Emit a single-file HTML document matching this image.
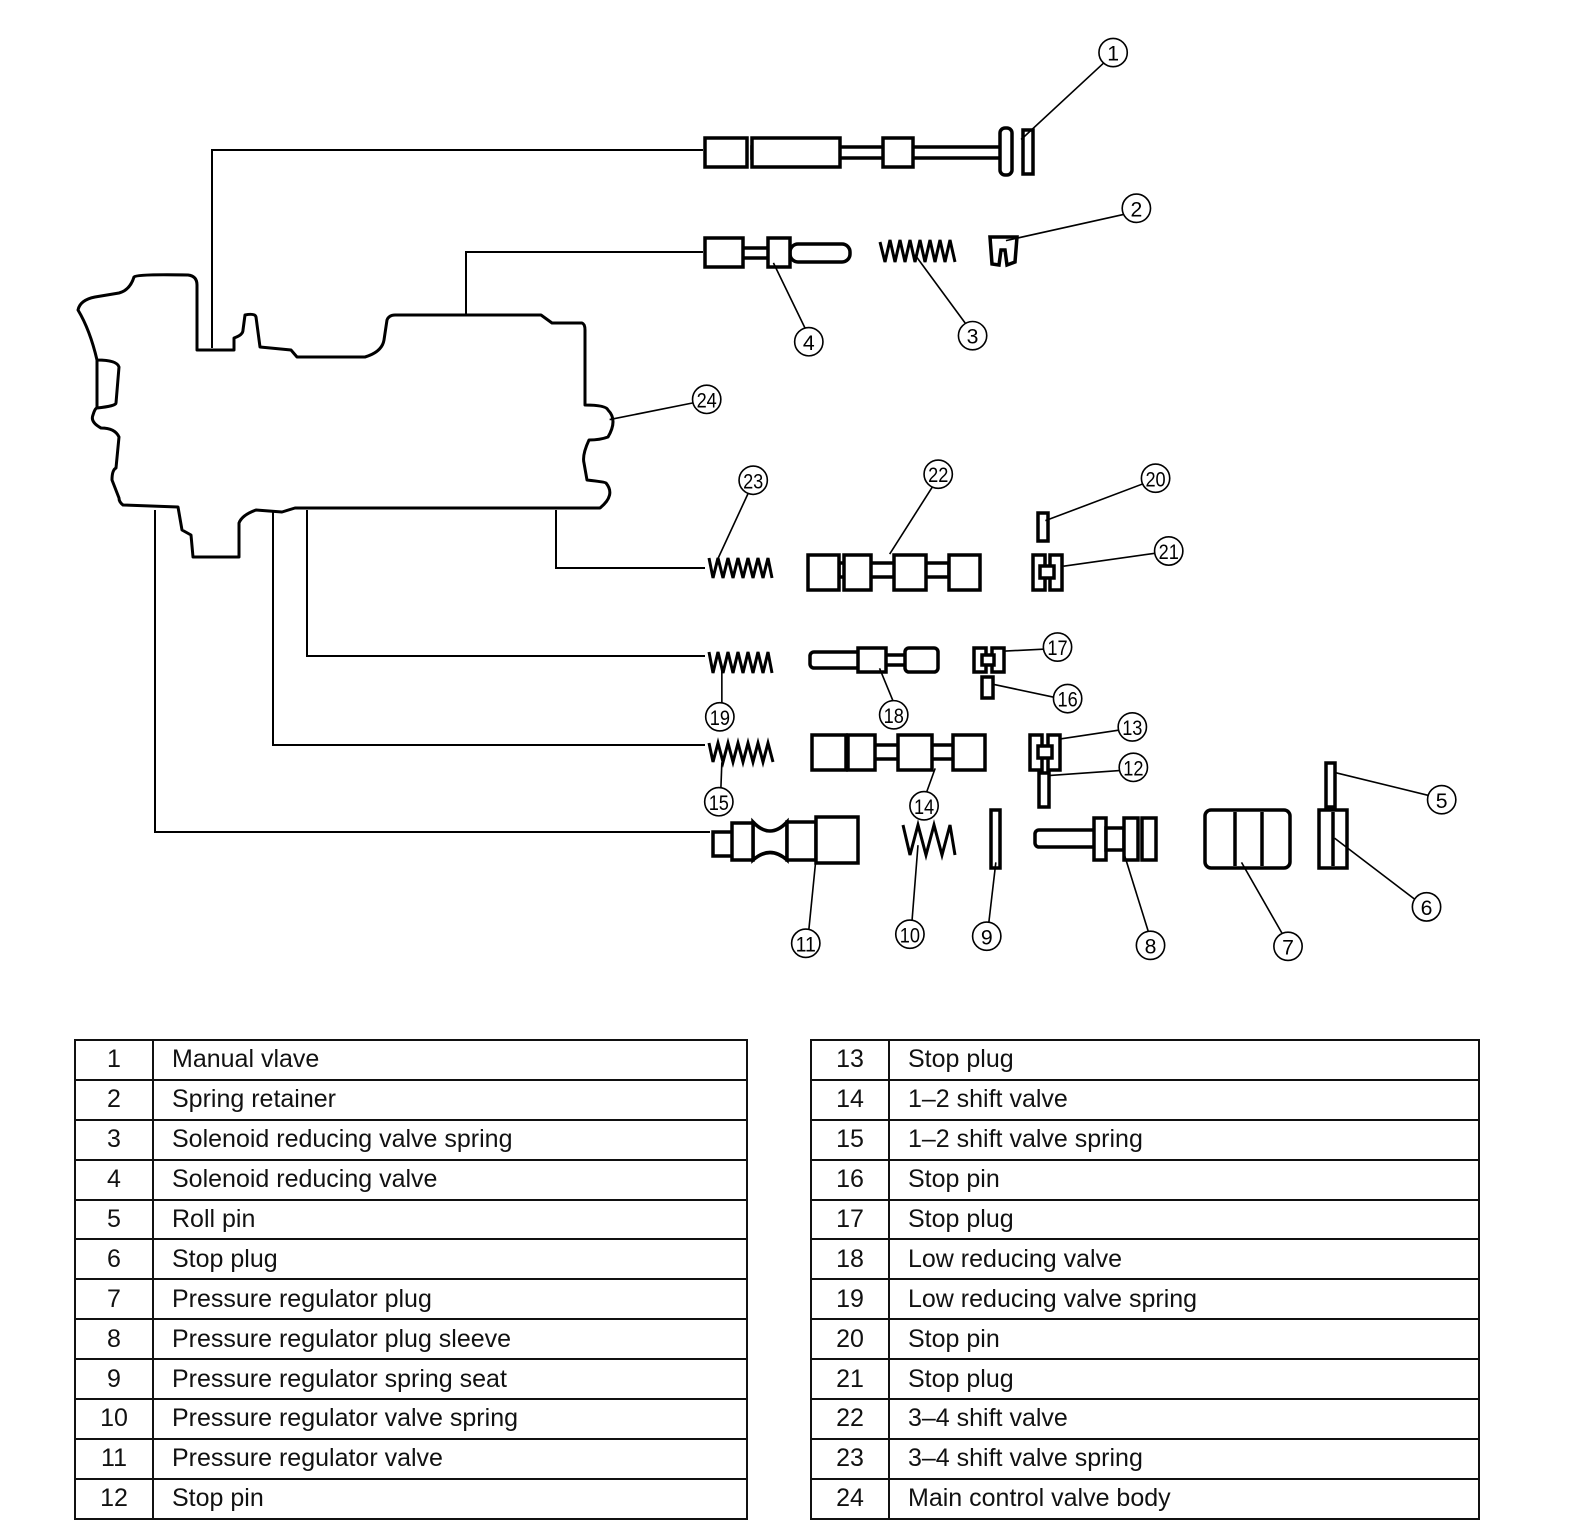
<!DOCTYPE html>
<html><head><meta charset="utf-8"><style>
body{margin:0;background:#fff;width:1584px;height:1538px;overflow:hidden;font-family:"Liberation Sans",sans-serif}
svg{position:absolute;left:0;top:0}
table{position:absolute;border-collapse:collapse;font-size:25px;color:#111}
td{border:2px solid #111;height:37.9px;padding:0;line-height:25px}
td.n{text-align:center;width:76px}
td.t{padding-left:18px}
</style></head><body>
<svg width="1584" height="1000" viewBox="0 0 1584 1000">
<g fill="none" stroke="#000" stroke-width="3" stroke-linejoin="round">
<path d="M78,310 Q80,300 95,297 L119,293 Q130,290 134,277 Q137,274 188,275 Q197,276 197,285 L197,350 L234,350 L234,338 Q243,335 243,330 L245,315 Q255,313 256,317 L260,347 L291,350 L297,357 L365,357 Q382,352 384,340 L387,320 Q389,315 395,315 L541,315 L552,323 L582,323 Q585,324 585,330 L585,405 Q606,405 608,410 Q618,420 608,437 Q600,440 589,440 Q582,455 584,463 L587,480 Q605,482 606,483 Q616,495 600,508 L295,508 L282,512 L256,510 Q242,515 239,523 L239,557 L193,557 L191,535 L182,530 L178,507 L123,505 Q119,502 119,498 L112,480 Q112,470 116,468 L119,437 Q115,428 101,428 Q90,422 93,415 Q95,408 97,408 Q116,406 116,403 L119,367 Q117,360 97,360 Q90,330 78,310 Z"/>
<line x1="97" y1="360" x2="97" y2="408"/>
</g>
<g fill="none" stroke="#000" stroke-width="2">
<polyline points="212,348 212,150 703,150"/>
<polyline points="466,315 466,252 703,252"/>
<polyline points="556,510 556,568 705,568"/>
<polyline points="307,510 307,656 705,656"/>
<polyline points="273,510 273,745 705,745"/>
<polyline points="155,510 155,832 710,832"/>
</g>
<g fill="#fff" stroke="#000" stroke-width="3.5">
<rect x="752" y="147" width="250" height="11"/>
<rect x="705" y="138" width="42" height="29"/>
<rect x="752" y="138" width="88" height="29"/>
<rect x="883" y="138" width="30" height="29"/>
<rect x="1000" y="128" width="12" height="47" rx="5"/>
<rect x="1023" y="130" width="10" height="44"/>
<rect x="790" y="244" width="60" height="18" rx="8"/>
<rect x="740" y="248" width="30" height="10"/>
<rect x="705" y="238" width="38" height="29"/>
<rect x="768" y="238" width="22" height="29"/>
<path d="M990,237 L1017,237 L1015,262 L1007,265 L1005,250 L1001,250 L999,265 L992,264 Z"/>
<rect x="839" y="563" width="110" height="14"/>
<rect x="808" y="555" width="31" height="35"/>
<rect x="844" y="555" width="27" height="35"/>
<rect x="894" y="555" width="32" height="35"/>
<rect x="949" y="555" width="31" height="35"/>
<rect x="1033" y="555" width="12" height="35"/><rect x="1050" y="555" width="12" height="35"/><rect x="1040" y="566" width="14" height="12"/>
<rect x="1038" y="513" width="10" height="28"/>
<rect x="810" y="652" width="50" height="16" rx="4"/>
<rect x="880" y="655" width="30" height="10"/>
<rect x="858" y="648" width="28" height="24"/>
<rect x="905" y="648" width="33" height="24" rx="4"/>
<rect x="974" y="648" width="12" height="24"/><rect x="992" y="648" width="12" height="24"/><rect x="982" y="655" width="12" height="10"/>
<rect x="982" y="677" width="11" height="21"/>
<rect x="846" y="745" width="110" height="14"/>
<rect x="812" y="735" width="34" height="35"/>
<rect x="848" y="735" width="27" height="35"/>
<rect x="898" y="735" width="34" height="35"/>
<rect x="953" y="735" width="32" height="35"/>
<rect x="1030" y="735" width="12" height="35"/><rect x="1048" y="735" width="12" height="35"/><rect x="1038" y="746" width="14" height="12"/>
<rect x="1039" y="773" width="10" height="34"/>
<rect x="1326" y="763" width="9" height="44"/>
<path d="M753,822 Q770,840 787,822 L787,860 Q770,845 753,860 Z"/>
<rect x="713" y="832" width="20" height="24"/>
<rect x="732" y="823" width="21" height="37"/>
<rect x="787" y="822" width="29" height="38"/>
<rect x="816" y="817" width="42" height="46"/>
<rect x="991" y="810" width="9" height="58"/>
<rect x="1035" y="830" width="65" height="17" rx="4"/>
<rect x="1094" y="818" width="12" height="42"/>
<rect x="1106" y="828" width="18" height="22"/>
<rect x="1124" y="818" width="14" height="42"/>
<rect x="1142" y="818" width="14" height="42"/>
<rect x="1205" y="810" width="85" height="58" rx="6"/>
<line x1="1235" y1="812" x2="1235" y2="866"/><line x1="1262" y1="812" x2="1262" y2="866"/>
<rect x="1319" y="810" width="28" height="58"/>
<line x1="1333" y1="812" x2="1333" y2="866"/>
</g>
<g fill="none" stroke="#000" stroke-width="3">
<polyline points="880,242 885,262 890,240 895,262 900,240 905,262 910,240 915,262 920,240 925,262 930,240 935,262 940,240 945,262 950,240 955,262"/>
<polyline points="709,558 713,578 718,558 723,578 728,558 733,578 738,558 743,578 748,558 753,578 758,558 763,578 768,558 772,578"/>
<polyline points="709,652 713,673 718,652 723,673 728,652 733,673 738,652 743,673 748,652 753,673 758,652 763,673 768,652 772,673"/>
<polyline points="709,743 713,762 718,743 723,762 728,743 733,762 738,743 743,762 748,743 753,762 758,743 763,762 768,743 773,762"/>
<polyline points="903,825 910,855 918,825 926,855 934,825 942,855 950,825 955,855"/>
</g>
<g transform="scale(1.011)">
<g stroke="#000" stroke-width="1.6">
<line x1="1010" y1="138" x2="1092" y2="62"/>
<line x1="995" y1="238" x2="1112" y2="212"/>
<line x1="905" y1="252" x2="955" y2="320"/>
<line x1="765" y1="260" x2="797" y2="326"/>
<line x1="603" y1="415" x2="688" y2="398"/>
<line x1="709" y1="555" x2="740" y2="488"/>
<line x1="880" y1="548" x2="922" y2="482"/>
<line x1="1034" y1="515" x2="1132" y2="478"/>
<line x1="1052" y1="560" x2="1144" y2="547"/>
<line x1="994" y1="644" x2="1034" y2="642"/>
<line x1="983" y1="677" x2="1044" y2="690"/>
<line x1="714" y1="663" x2="714" y2="697"/>
<line x1="870" y1="661" x2="884" y2="695"/>
<line x1="1048" y1="731" x2="1108" y2="722"/>
<line x1="1039" y1="767" x2="1109" y2="762"/>
<line x1="1320" y1="764" x2="1414" y2="787"/>
<line x1="1320" y1="829" x2="1400" y2="890"/>
<line x1="714" y1="754" x2="713" y2="781"/>
<line x1="925" y1="760" x2="916" y2="785"/>
<line x1="807" y1="850" x2="800" y2="920"/>
<line x1="908" y1="836" x2="902" y2="912"/>
<line x1="985" y1="853" x2="978" y2="913"/>
<line x1="1112" y1="845" x2="1136" y2="922"/>
<line x1="1228" y1="853" x2="1268" y2="923"/>
</g>
<g fill="#fff" stroke="#000" stroke-width="1.6">
<circle cx="1101" cy="52" r="14"/><circle cx="1124" cy="206" r="14"/><circle cx="962" cy="332" r="14"/><circle cx="800" cy="338" r="14"/>
<circle cx="699" cy="395" r="14"/><circle cx="745" cy="475" r="14"/><circle cx="928" cy="469" r="14"/><circle cx="1143" cy="473" r="14"/>
<circle cx="1156" cy="545" r="14"/><circle cx="1046" cy="640" r="14"/><circle cx="1056" cy="691" r="14"/><circle cx="712" cy="709" r="14"/>
<circle cx="884" cy="707" r="14"/><circle cx="1120" cy="719" r="14"/><circle cx="1121" cy="759" r="14"/><circle cx="711" cy="793" r="14"/>
<circle cx="914" cy="797" r="14"/><circle cx="1426" cy="791" r="14"/><circle cx="1411" cy="897" r="14"/><circle cx="797" cy="933" r="14"/>
<circle cx="900" cy="924" r="14"/><circle cx="976" cy="926" r="14"/><circle cx="1138" cy="935" r="14"/><circle cx="1274" cy="936" r="14"/>
</g>
<g font-family="Liberation Sans, sans-serif" font-size="21" text-anchor="middle" fill="#000">
<text x="1101" y="60">1</text><text x="1124" y="214">2</text><text x="962" y="340">3</text><text x="800" y="346">4</text>
<text x="699" y="403" textLength="20" lengthAdjust="spacingAndGlyphs">24</text><text x="745" y="483" textLength="20" lengthAdjust="spacingAndGlyphs">23</text>
<text x="928" y="477" textLength="20" lengthAdjust="spacingAndGlyphs">22</text><text x="1143" y="481" textLength="20" lengthAdjust="spacingAndGlyphs">20</text>
<text x="1156" y="553" textLength="20" lengthAdjust="spacingAndGlyphs">21</text><text x="1046" y="648" textLength="20" lengthAdjust="spacingAndGlyphs">17</text>
<text x="1056" y="699" textLength="20" lengthAdjust="spacingAndGlyphs">16</text><text x="712" y="717" textLength="20" lengthAdjust="spacingAndGlyphs">19</text>
<text x="884" y="715" textLength="20" lengthAdjust="spacingAndGlyphs">18</text><text x="1120" y="727" textLength="20" lengthAdjust="spacingAndGlyphs">13</text>
<text x="1121" y="767" textLength="20" lengthAdjust="spacingAndGlyphs">12</text><text x="711" y="801" textLength="20" lengthAdjust="spacingAndGlyphs">15</text>
<text x="914" y="805" textLength="20" lengthAdjust="spacingAndGlyphs">14</text><text x="1426" y="799">5</text><text x="1411" y="905">6</text>
<text x="797" y="941" textLength="20" lengthAdjust="spacingAndGlyphs">11</text><text x="900" y="932" textLength="20" lengthAdjust="spacingAndGlyphs">10</text>
<text x="976" y="934">9</text><text x="1138" y="943">8</text><text x="1274" y="944">7</text>
</g>
</g>
</svg>
<table style="left:74px;top:1039px;width:674px">
<tr><td class="n">1</td><td class="t">Manual vlave</td></tr>
<tr><td class="n">2</td><td class="t">Spring retainer</td></tr>
<tr><td class="n">3</td><td class="t">Solenoid reducing valve spring</td></tr>
<tr><td class="n">4</td><td class="t">Solenoid reducing valve</td></tr>
<tr><td class="n">5</td><td class="t">Roll pin</td></tr>
<tr><td class="n">6</td><td class="t">Stop plug</td></tr>
<tr><td class="n">7</td><td class="t">Pressure regulator plug</td></tr>
<tr><td class="n">8</td><td class="t">Pressure regulator plug sleeve</td></tr>
<tr><td class="n">9</td><td class="t">Pressure regulator spring seat</td></tr>
<tr><td class="n">10</td><td class="t">Pressure regulator valve spring</td></tr>
<tr><td class="n">11</td><td class="t">Pressure regulator valve</td></tr>
<tr><td class="n">12</td><td class="t">Stop pin</td></tr>
</table>
<table style="left:810px;top:1039px;width:670px">
<tr><td class="n">13</td><td class="t">Stop plug</td></tr>
<tr><td class="n">14</td><td class="t">1–2 shift valve</td></tr>
<tr><td class="n">15</td><td class="t">1–2 shift valve spring</td></tr>
<tr><td class="n">16</td><td class="t">Stop pin</td></tr>
<tr><td class="n">17</td><td class="t">Stop plug</td></tr>
<tr><td class="n">18</td><td class="t">Low reducing valve</td></tr>
<tr><td class="n">19</td><td class="t">Low reducing valve spring</td></tr>
<tr><td class="n">20</td><td class="t">Stop pin</td></tr>
<tr><td class="n">21</td><td class="t">Stop plug</td></tr>
<tr><td class="n">22</td><td class="t">3–4 shift valve</td></tr>
<tr><td class="n">23</td><td class="t">3–4 shift valve spring</td></tr>
<tr><td class="n">24</td><td class="t">Main control valve body</td></tr>
</table>
</body></html>
